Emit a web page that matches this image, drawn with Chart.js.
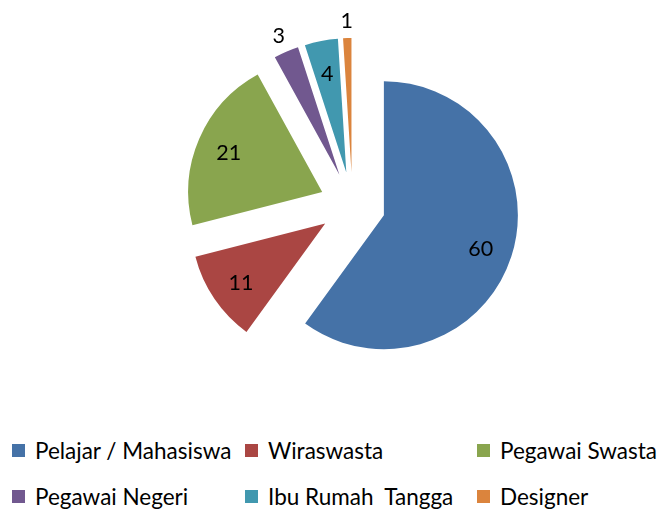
<!DOCTYPE html>
<html>
<head>
<meta charset="utf-8">
<script src="https://cdn.jsdelivr.net/npm/chart.js@4"></script>
<style>
  html, body { margin: 0; padding: 0; background: #fff; }
  #wrap { position: relative; width: 661px; height: 515px; }
  #pie { position: absolute; left: 0; top: 0; }
  #legend {
    position: absolute; left: 12px; top: 438px;
    display: grid; grid-template-columns: 233px 232px 180px;
    row-gap: 22px;
    font-family: Lato, "Liberation Sans", sans-serif; font-size: 22.5px; color: #000;
  }
  .item { display: flex; align-items: center; height: 24px; white-space: pre; }
  .box { width: 13px; height: 13px; margin-right: 10px; flex: none; }
</style>
</head>
<body>
<div id="wrap">
  <canvas id="pie" width="661" height="400"></canvas>
  <div id="legend"></div>
</div>
<script>
// data
const categories = ["Pelajar / Mahasiswa", "Wiraswasta", "Pegawai Swasta",
                    "Pegawai Negeri", "Ibu Rumah  Tangga", "Designer"];
const values = [60, 11, 21, 3, 4, 1];
const colors = ["#4572A7", "#AA4643", "#89A54E", "#71588F", "#4198AF", "#DB843D"];

const explode = 33;

// push every slice out along its own bisector (the offset option also grows the radius)
const explodePlugin = {
  id: "explode",
  afterDatasetUpdate(chart, args) {
    args.meta.data.forEach((arc) => {
      const mid = (arc.startAngle + arc.endAngle) / 2;
      arc.x += Math.cos(mid) * explode;
      arc.y += Math.sin(mid) * explode;
    });
  },
};

// value labels, inside for the big slices and outside for the thin ones
const valueLabels = {
  id: "valueLabels",
  afterDatasetsDraw(chart) {
    const ctx = chart.ctx;
    const meta = chart.getDatasetMeta(0);
    ctx.save();
    ctx.font = "21.5px Lato, 'Liberation Sans', sans-serif";
    ctx.fillStyle = "#000";
    ctx.textAlign = "center";
    ctx.textBaseline = "middle";
    meta.data.forEach((arc, i) => {
      const mid = (arc.startAngle + arc.endAngle) / 2;
      const r = arc.outerRadius * (values[i] <= 3 ? 1.14 : 0.76);
      ctx.fillText(String(values[i]), arc.x + Math.cos(mid) * r, arc.y + Math.sin(mid) * r + 2);
    });
    ctx.restore();
  },
};

new Chart(document.getElementById("pie"), {
  type: "pie",
  data: {
    labels: categories,
    datasets: [{
      data: values,
      backgroundColor: colors,
      borderWidth: 0,
    }],
  },
  options: {
    responsive: false,
    animation: false,
    radius: 134,
    layout: { padding: { left: 44, right: 0, top: 10, bottom: 0 } },
    plugins: {
      legend: { display: false },
      tooltip: { enabled: false },
    },
  },
  plugins: [explodePlugin, valueLabels],
});

// legend in three columns, like the original
const legend = document.getElementById("legend");
categories.forEach((name, i) => {
  const item = document.createElement("div");
  item.className = "item";
  const box = document.createElement("span");
  box.className = "box";
  box.style.background = colors[i];
  item.appendChild(box);
  item.appendChild(document.createTextNode(name));
  legend.appendChild(item);
});
</script>
</body>
</html>
